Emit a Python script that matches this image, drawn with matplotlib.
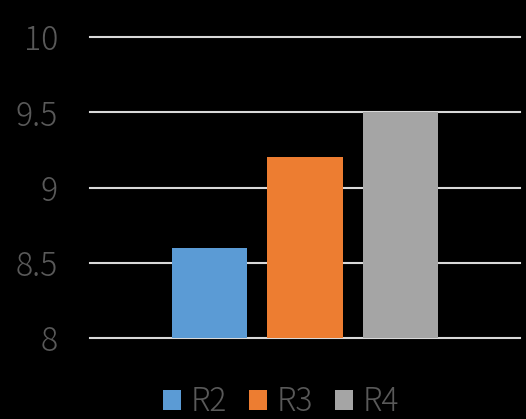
import matplotlib
matplotlib.use("Agg")
import matplotlib.pyplot as plt
from matplotlib.patches import Patch

series = ["R2", "R3", "R4"]
values = [8.6, 9.2, 9.5]
colors = ["#5b9bd5", "#ed7d31", "#a5a5a5"]
yticks = [8, 8.5, 9, 9.5, 10]
ytick_labels = ["8", "8.5", "9", "9.5", "10"]

plt.rcParams["font.family"] = ["Noto Sans CJK JP", "DejaVu Sans"]

W, H = 526, 419
FS = 23
fig = plt.figure(figsize=(W / 100, H / 100), dpi=100, facecolor="black")
ax = fig.add_axes([90 / W, (H - 338) / H, 430 / W, 301 / H], facecolor="black")

positions = list(range(len(series)))
ax.bar(positions, [v - 8 for v in values], bottom=8, width=0.79,
       color=colors, zorder=3)

ax.set_xlim(-1.25, 3.25)
ax.set_ylim(8, 10)
ax.set_yticks(yticks)
ax.set_yticklabels(ytick_labels)
ax.set_xticks([])
ax.grid(axis="y", color="#d9d9d9", linewidth=1.5, zorder=1)
ax.tick_params(axis="y", length=0, pad=23, labelsize=FS, labelcolor="#595959")
for lbl in ax.get_yticklabels():
    lbl.set_fontweight("light")
for s in ax.spines.values():
    s.set_visible(False)
for line in ax.get_ygridlines():
    line.set_clip_on(False)

handles = [Patch(facecolor=c, edgecolor="none") for c in colors]
leg = fig.legend(handles, series, loc="center", bbox_to_anchor=(281 / W, (H - 402) / H),
                 ncol=3, frameon=False, handlelength=0.56,
                 handleheight=0.56, handletextpad=0.3, columnspacing=0.7,
                 prop={"weight": "light", "size": FS})
for t in leg.get_texts():
    t.set_color("#595959")

fig.savefig("out.png", dpi=100, facecolor="black")
